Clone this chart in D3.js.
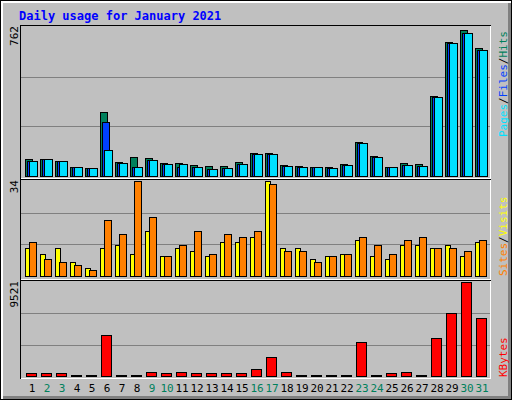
<!DOCTYPE html>
<html><head><meta charset="utf-8">
<script src="https://cdn.jsdelivr.net/npm/d3@7"></script>
<style>body{margin:0;background:#fff}</style></head>
<body><svg id="c" width="512" height="400"></svg>
<script>
const days = d3.range(1, 32);
const weekend = [2,3,9,10,16,17,23,24,30,31];
const hits  = [86,86,76,46,41,325,71,97,91,66,66,56,51,51,71,117,117,56,51,46,46,61,173,102,46,66,61,411,686,747,655];
const files = [76,86,76,46,41,274,66,46,81,61,46,46,36,41,61,112,112,51,46,46,41,56,168,97,46,56,51,406,681,732,645];
const pages = [76,86,76,46,41,132,66,46,81,61,61,46,36,41,61,112,112,51,46,46,41,56,168,97,46,56,51,406,681,732,645];
const visits = [10,8,10,5,3,10,11,8,16,7,10,9,7,12,12,14,34,10,10,6,7,8,13,7,6,11,11,10,11,7,12];
const sites  = [12,6,5,4,2,20,15,34,21,7,11,16,8,15,14,16,33,9,9,5,7,8,14,11,8,13,14,10,10,9,13];
const kbytes = [278,278,278,100,100,4135,100,100,382,278,382,278,278,278,278,695,1946,382,100,100,100,100,3405,100,278,382,100,3822,6428,9521,5907];
const maxLabels = ["762","34","9521"];

const svg = d3.select("#c");
const mono = "DejaVu Sans Mono, monospace";
svg.append("rect").attr("x",0).attr("y",0).attr("width",512).attr("height",400).attr("fill","#000");
svg.append("rect").attr("x",1).attr("y",1).attr("width",510).attr("height",398).attr("fill","#fff");
svg.append("rect").attr("x",3).attr("y",3).attr("width",508).attr("height",396).attr("fill","#808080");
svg.append("rect").attr("x",3).attr("y",3).attr("width",505).attr("height",393).attr("fill","#c0c0c0");
svg.append("text").attr("x",19).attr("y",20).attr("fill","#0000ff").attr("font-family",mono)
  .attr("font-weight","bold").attr("font-size",12).text("Daily usage for January 2021");

const x = d3.scaleLinear().domain([1,31]).range([25,475]);
const panels = [
  {top:25, bot:178, base:176, max:762},
  {top:179, bot:279, base:276, max:34},
  {top:280, bot:378, base:376, max:9521}
];
panels.forEach((p,i)=>{
  svg.append("rect").attr("x",20.5).attr("y",p.top+0.5).attr("width",470).attr("height",p.bot-p.top)
    .attr("fill","#c0c0c0").attr("stroke","#000");
  svg.append("line").attr("x1",21).attr("x2",490).attr("y1",p.bot+0.5).attr("y2",p.bot+0.5).attr("stroke","#fff");
  svg.append("line").attr("x1",490.5).attr("x2",490.5).attr("y1",p.top+1).attr("y2",p.bot+1).attr("stroke","#fff");
  p.y = d3.scaleLinear().domain([0,p.max]).range([p.base, p.base-(p.base-p.top-2)]);
  [1/3,2/3].forEach(f=>{
    const yy = Math.round(p.y(p.max*f))+0.5;
    svg.append("line").attr("x1",21).attr("x2",490).attr("y1",yy).attr("y2",yy).attr("stroke","#808080");
  });
  svg.append("text").attr("transform",`translate(18,${p.top+1}) rotate(-90)`).attr("text-anchor","end")
    .attr("font-family",mono).attr("font-size",11).attr("fill","#000").text(maxLabels[i]);
});

function bars(panel, data, dx, w, color){
  const p = panels[panel];
  svg.append("g").selectAll("rect").data(data).join("rect")
    .attr("x",(d,i)=>x(days[i])+dx+0.5).attr("y",d=>Math.round(p.y(d))+0.5)
    .attr("width",w).attr("height",d=>Math.max(1,p.base-Math.round(p.y(d))))
    .attr("fill",color).attr("stroke","#000");
}
bars(0,hits,0,7,"#00805c");
bars(0,files,2,7,"#0040ff");
bars(0,pages,4,8,"#00e0ff");
bars(1,visits,0,5,"#ffff00");
bars(1,sites,4,7,"#ff8000");
bars(2,kbytes,1,10,"#ff0000");

svg.append("g").selectAll("text").data(days).join("text")
  .attr("x",d=>x(d)+7).attr("y",392).attr("text-anchor","middle")
  .attr("font-family",mono).attr("font-size",11)
  .attr("fill",d=>weekend.includes(d)?"#00805c":"#000").text(d=>d);

function legend(yb, parts){
  const t = svg.append("text").attr("transform",`translate(507,${yb}) rotate(-90)`)
    .attr("font-family",mono).attr("font-size",11);
  parts.forEach(([s,c])=>t.append("tspan").attr("fill",c).text(s));
}
legend(137,[["Pages","#00e0ff"],["/","#000"],["Files","#0040ff"],["/","#000"],["Hits","#00805c"]]);
legend(276,[["Sites","#ff8000"],["/","#000"],["Visits","#ffff00"]]);
legend(377,[["KBytes","#ff0000"]]);
</script></body></html>
